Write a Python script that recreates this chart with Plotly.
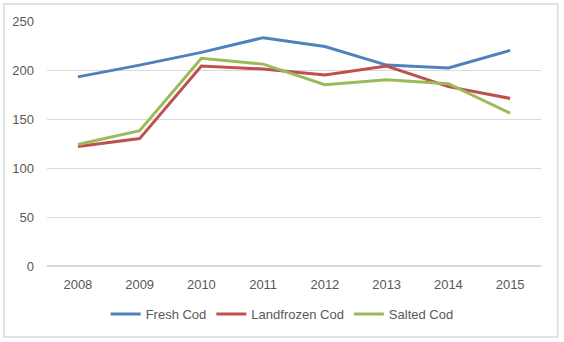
import plotly.graph_objects as go

years = ["2008", "2009", "2010", "2011", "2012", "2013", "2014", "2015"]
fresh = [193, 205, 218, 233, 224, 205, 202, 220]
landfrozen = [122, 130, 204, 201, 195, 204, 183, 171]
salted = [124, 138, 212, 206, 185, 190, 186, 156]

series = [("Fresh Cod", fresh, "#4F81BD"),
          ("Landfrozen Cod", landfrozen, "#C0504D"),
          ("Salted Cod", salted, "#9BBB59")]

fig = go.Figure()
for name, vals, col in series:
    fig.add_trace(go.Scatter(x=years, y=vals, name=name, mode="lines",
                             line=dict(color=col, width=3)))

font = dict(family="Liberation Sans Narrow, Liberation Sans, Arial", size=13, color="#595959")
fig.update_layout(
    width=564, height=342,
    margin=dict(l=47, r=23, t=21, b=76),
    paper_bgcolor="white", plot_bgcolor="white",
    font=font,
    xaxis=dict(type="category", range=[-0.5, 7.5], showgrid=False, ticks="",
               showline=False, zeroline=False, tickfont=font, ticklabelstandoff=9),
    yaxis=dict(range=[0, 250], dtick=50, showgrid=True, gridcolor="#D9D9D9",
               gridwidth=1, zeroline=True, zerolinecolor="#D9D9D9", ticks="",
               showline=False, tickfont=font, ticklabelstandoff=12),
    legend=dict(orientation="h", x=0.476, xanchor="center", y=-0.196, yanchor="middle",
                font=font, itemwidth=30, tracegroupgap=0),
    shapes=[dict(type="rect", xref="paper", yref="paper", x0=-0.087, x1=1.034,
                 y0=-0.290, y1=1.069, line=dict(color="#D9D9D9", width=1.5))],
)
fig.write_html("out.html")
